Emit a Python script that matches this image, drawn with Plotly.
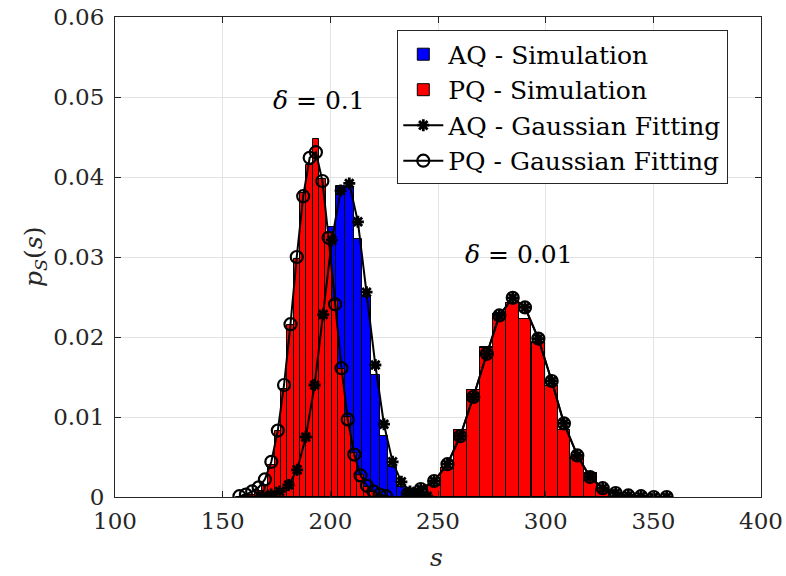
import numpy as np
import plotly.graph_objects as go

# ---------------- data ----------------
# delta = 0.1, PQ histogram (red) and Gaussian fit (circles)
pq1_s = [157.8, 160.8, 163.7, 166.7, 169.6, 172.6, 175.6, 178.5, 181.5, 184.4, 187.4, 190.4,
         193.3, 196.3, 199.2, 202.2, 205.2, 208.1, 211.1, 214.0, 217.0, 220.0, 222.9, 225.9]
pq1_hist = [0.0000, 0.0002, 0.0003, 0.0008, 0.0015, 0.0040, 0.0082, 0.0135, 0.0215, 0.0298, 0.0380, 0.0415,
            0.0447, 0.0398, 0.0330, 0.0245, 0.0160, 0.0100, 0.0055, 0.0028, 0.0012, 0.0006, 0.0002, 0.0001]
pq1_fit = [0.0001, 0.0003, 0.0007, 0.0012, 0.0022, 0.0044, 0.0083, 0.0140, 0.0216, 0.0300, 0.0376, 0.0424,
           0.0431, 0.0395, 0.0324, 0.0241, 0.0161, 0.0097, 0.0053, 0.0027, 0.0014, 0.0007, 0.0003, 0.0001]

# delta = 0.1, AQ histogram (blue) and Gaussian fit (asterisks)
aq1_s = [168.5, 172.5, 176.5, 180.6, 184.6, 188.6, 192.7, 196.7, 200.7, 204.8, 208.8, 212.8,
         216.8, 220.9, 224.9, 228.9, 233.0, 237.0, 241.0, 245.0]
aq1_hist = [0.0000, 0.0003, 0.0008, 0.0016, 0.0036, 0.0075, 0.0140, 0.0230, 0.0337, 0.0389, 0.0388, 0.0323,
            0.0250, 0.0152, 0.0076, 0.0038, 0.0012, 0.0003, 0.0001, 0.0000]
aq1_fit = [0.0001, 0.0003, 0.0007, 0.0015, 0.0034, 0.0075, 0.0140, 0.0228, 0.0321, 0.0383, 0.0392, 0.0344,
           0.0256, 0.0165, 0.0091, 0.0044, 0.0019, 0.0007, 0.0002, 0.0001]

# delta = 0.01, PQ and AQ (nearly identical)
s2 = [236.0, 242.0, 248.2, 254.4, 260.3, 266.4, 272.7, 278.5, 284.7, 290.4, 296.6, 302.8,
      308.5, 314.7, 320.6, 326.5, 332.5, 338.4, 344.3, 350.2, 356.2]
pq2_hist = [0.0000, 0.0003, 0.0014, 0.0036, 0.0084, 0.0134, 0.0186, 0.0229, 0.0242, 0.0222, 0.0193, 0.0139,
            0.0084, 0.0050, 0.0030, 0.0010, 0.0000, 0.0000, 0.0000, 0.0000, 0.0000]
aq2_hist = [0.0000, 0.0003, 0.0014, 0.0036, 0.0084, 0.0134, 0.0187, 0.0229, 0.0242, 0.0223, 0.0194, 0.0139,
            0.0084, 0.0050, 0.0030, 0.0010, 0.0000, 0.0000, 0.0000, 0.0000, 0.0000]
pq2_fit = [0.0004, 0.0010, 0.0020, 0.0041, 0.0076, 0.0125, 0.0179, 0.0227, 0.0249, 0.0237, 0.0198, 0.0145,
           0.0092, 0.0052, 0.0025, 0.0011, 0.0005, 0.0002, 0.0001, 0.0000, 0.0000]
aq2_fit = [0.0004, 0.0010, 0.0020, 0.0041, 0.0076, 0.0125, 0.0179, 0.0227, 0.0249, 0.0237, 0.0198, 0.0145,
           0.0092, 0.0052, 0.0025, 0.0011, 0.0005, 0.0002, 0.0001, 0.0000, 0.0000]

x_ticks = [100, 150, 200, 250, 300, 350, 400]
y_ticks = [0, 0.01, 0.02, 0.03, 0.04, 0.05, 0.06]
y_tick_labels = ["0", "0.01", "0.02", "0.03", "0.04", "0.05", "0.06"]

# ---------------- figure ----------------
FONT = "DejaVu Serif"
TXT = "#262626"


def binw(c):
    return float(np.mean(np.diff(c)))


fig = go.Figure()

bar_line = dict(color="black", width=1)

fig.add_trace(go.Bar(x=aq1_s, y=aq1_hist, width=binw(aq1_s), marker=dict(color="#0000ff", line=bar_line),
                     name="AQ - Simulation", legendgroup="aqs", showlegend=True))
fig.add_trace(go.Bar(x=s2, y=aq2_hist, width=binw(s2), marker=dict(color="#0000ff", line=bar_line),
                     name="AQ - Simulation", legendgroup="aqs", showlegend=False))
fig.add_trace(go.Bar(x=pq1_s, y=pq1_hist, width=binw(pq1_s), marker=dict(color="#ff0000", line=bar_line),
                     name="PQ - Simulation", legendgroup="pqs", showlegend=True))
fig.add_trace(go.Bar(x=s2, y=pq2_hist, width=binw(s2), marker=dict(color="#ff0000", line=bar_line),
                     name="PQ - Simulation", legendgroup="pqs", showlegend=False))

aq_marker = dict(symbol="asterisk-open", size=10, color="black", line=dict(color="black", width=2.8))
pq_marker = dict(symbol="circle-open", size=12, color="black", line=dict(color="black", width=2.2))

fig.add_trace(go.Scatter(x=aq1_s, y=aq1_fit, mode="lines+markers", line=dict(color="black", width=2),
                         marker=aq_marker, name="AQ - Gaussian Fitting", legendgroup="aqf", showlegend=True))
fig.add_trace(go.Scatter(x=s2, y=aq2_fit, mode="lines+markers", line=dict(color="black", width=2),
                         marker=aq_marker, name="AQ - Gaussian Fitting", legendgroup="aqf", showlegend=False))
fig.add_trace(go.Scatter(x=pq1_s, y=pq1_fit, mode="lines+markers", line=dict(color="black", width=2),
                         marker=pq_marker, name="PQ - Gaussian Fitting", legendgroup="pqf", showlegend=True))
fig.add_trace(go.Scatter(x=s2, y=pq2_fit, mode="lines+markers", line=dict(color="black", width=2),
                         marker=pq_marker, name="PQ - Gaussian Fitting", legendgroup="pqf", showlegend=False))

axis_common = dict(showgrid=True, gridcolor="#e3e3e3", gridwidth=1, zeroline=False,
                   showline=True, linecolor="#262626", linewidth=1, mirror="ticks",
                   ticks="inside", ticklen=6, tickcolor="#262626", automargin=False,
                   tickfont=dict(family=FONT, size=23, color=TXT))

fig.update_layout(
    width=786, height=576,
    margin=dict(l=115, r=25, t=17, b=79, autoexpand=False),
    plot_bgcolor="white", paper_bgcolor="white",
    barmode="overlay", bargap=0,
    showlegend=True,
    legend=dict(x=0.437, y=0.972, xanchor="left", yanchor="top",
                bgcolor="white", bordercolor="#262626", borderwidth=1,
                font=dict(family=FONT, size=25, color="black"),
                tracegroupgap=0, itemwidth=40),
    xaxis=dict(range=[100, 400], tickvals=x_ticks, ticktext=[str(v) for v in x_ticks],
               ticklabelstandoff=3, **axis_common),
    yaxis=dict(range=[0, 0.06], tickvals=y_ticks, ticktext=y_tick_labels,
               ticklabelstandoff=5, **axis_common),
    annotations=[
        dict(text="<i>δ</i> = 0.1", x=194.8, y=0.0496, xref="x", yref="y", showarrow=False,
             xanchor="center", yanchor="middle",
             font=dict(family=FONT, size=25, color="black")),
        dict(text="<i>δ</i> = 0.01", x=287.5, y=0.0303, xref="x", yref="y", showarrow=False,
             xanchor="center", yanchor="middle",
             font=dict(family=FONT, size=25, color="black")),
        dict(text="<i>s</i>", x=0.498, y=-0.125, xref="paper", yref="paper", showarrow=False,
             xanchor="center", yanchor="middle",
             font=dict(family=FONT, size=25, color=TXT)),
        dict(text="<i>p</i><sub><i>S</i></sub>(<i>s</i>)", x=-0.124, y=0.5, xref="paper", yref="paper",
             showarrow=False, textangle=-90, xanchor="center", yanchor="middle",
             font=dict(family=FONT, size=25, color=TXT)),
    ],
)

fig.write_html("out.html", config={"displayModeBar": False},
               post_script="document.body.style.margin='0';document.body.style.overflow='hidden';")
